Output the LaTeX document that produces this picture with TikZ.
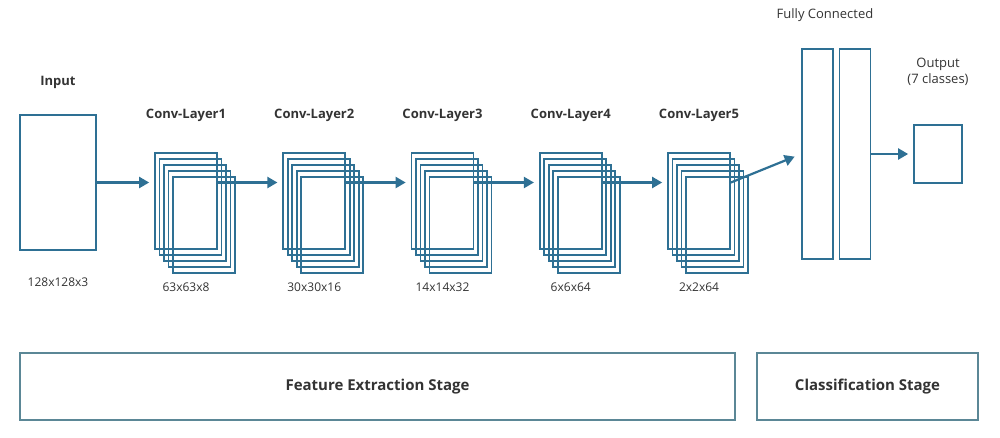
\documentclass[tikz,border=0pt]{standalone}
\usepackage{fontspec}
\setmainfont{Open Sans}
\usetikzlibrary{arrows.meta}
\definecolor{layerblue}{HTML}{2E7094}
\definecolor{stagegray}{HTML}{5B8796}
\definecolor{txtgray}{HTML}{333333}

\begin{document}
\begin{tikzpicture}[x=1pt, y=-1pt,
  box/.style={draw=layerblue, line width=1.7pt, inner sep=0pt},
  fmap/.style={box, minimum width=62pt, minimum height=96pt},
  flow/.style={draw=layerblue, line width=2.2pt, -{Triangle[length=10pt,width=11pt]}, shorten >=5pt},
  stage/.style={draw=stagegray, line width=1.5pt, minimum height=67pt, inner sep=0pt,
    text=txtgray, font=\bfseries\fontsize{15}{17}\selectfont},
  title/.style={text=txtgray, font=\bfseries\fontsize{13}{15}\selectfont},
  dimlabel/.style={text=txtgray, font=\fontsize{12}{14}\selectfont},
  plain/.style={text=txtgray, font=\fontsize{13}{16}\selectfont, align=center}]
\useasboundingbox (0,0) rectangle (1000,437);

\node[box, minimum width=76pt, minimum height=135pt] (in) at (58,182.5) {};
\node[title] (intitle) at (58,82) {Input};
\node[dimlabel] (indim) at (58,282) {128x128x3};

\foreach \dims [count=\k] in {63x63x8,30x30x16,14x14x32,6x6x64,2x2x64}{
  \foreach \j in {0,...,4}
    \node[fmap] (c\k-\j) at ({186+128.25*(\k-1)+4.5*\j},{201+6*\j}) {};
  \node[title] (t\k) at (c\k-0 |- 0,115) {Conv-Layer\k};
  \node[dimlabel] (d\k) at (c\k-0 |- 0,287) {\dims};
}

\node[box, minimum width=31pt, minimum height=210pt] (fc1) at (817.5,154) {};
\node[box, minimum width=31pt, minimum height=210pt] (fc2) at (855,154) {};
\node[plain] (fctitle) at (825,15) {Fully Connected};
\node[box, minimum width=48pt, minimum height=58pt] (out) at (938,154) {};
\node[plain] (outtitle) at (938,72) {Output\\(7 classes)};

\draw[flow] (in.east) -- (c1-0.west |- in.east);
\foreach \k [evaluate=\k as \n using int(\k+1)] in {1,...,4}
  \draw[flow] (c\k-0.east |- in.east) -- (c\n-0.west |- in.east);
\draw[flow, shorten >=7pt] (c5-0.east |- in.east) -- (fc1.west);
\draw[flow] (fc2.east) -- (out.west);

\node[stage, minimum width=715pt] (feat) at (377.5,386.5) {Feature Extraction Stage};
\node[stage, minimum width=221pt] (cls) at (867.5,386.5) {Classification Stage};
\end{tikzpicture}
\end{document}
